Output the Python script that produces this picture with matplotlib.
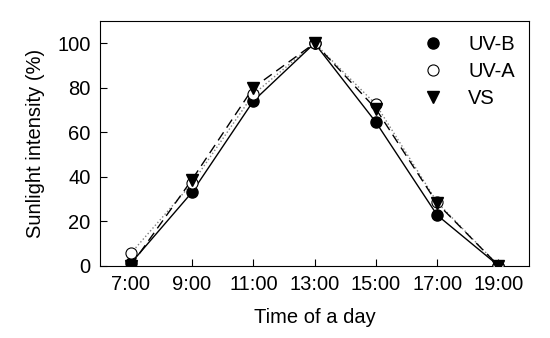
#!/usr/bin/env python

"""
Sunlight intensity over the day
"""

import matplotlib
matplotlib.use("Agg")
import matplotlib.pyplot as plt
from matplotlib.lines import Line2D

#%% data
hours = [7, 9, 11, 13, 15, 17, 19]
hour_labels = ["7:00", "9:00", "11:00", "13:00", "15:00", "17:00", "19:00"]
uvb = [1, 33, 74, 100, 64.5, 22.7, 0]
uva = [5.5, 37, 77, 100, 72.5, 28.5, 0]
vs = [0, 38.7, 80, 100, 70.5, 28, 0]

#%% plot
plt.rcParams['font.family'] = ['Liberation Sans', 'DejaVu Sans']

fig = plt.figure(figsize=(5.5, 3.38), dpi=100)
ax = fig.add_axes([0.182, 0.214, 0.780, 0.724])

ms = 8
fs = 14.5
ax.plot(hours, uvb, '-', color='black', lw=1, zorder=3)
ax.plot(hours, uva, ':', color='gray', lw=1, zorder=2)
ax.plot(hours, vs, '--', color='black', lw=1, dashes=(7, 4), zorder=2)

ax.plot(hours, uvb, 'o', color='black', ms=ms, zorder=4)
ax.plot(hours, uva, 'o', mfc='white', mec='black', mew=0.8, ms=ms, zorder=5)
ax.plot(hours, vs, 'v', color='black', ms=ms, zorder=6)

ax.set_xlim(6, 20)
ax.set_ylim(0, 110)
ax.set_xticks(hours)
ax.set_xticklabels(hour_labels)
ax.set_yticks([0, 20, 40, 60, 80, 100])
ax.tick_params(direction='in', length=5, width=0.8, labelsize=fs, pad=7)
for s in ax.spines.values():
    s.set_linewidth(0.8)

ax.set_xlabel("Time of a day", fontsize=fs, labelpad=10)
ax.set_ylabel("Sunlight intensity (%)", fontsize=fs, labelpad=9)

handles = [
    Line2D([], [], ls='', marker='o', color='black', ms=ms),
    Line2D([], [], ls='', marker='o', mfc='white', mec='black', mew=0.8, ms=ms),
    Line2D([], [], ls='', marker='v', color='black', ms=ms),
]
ax.legend(handles, ["UV-B", "UV-A", "VS"], loc='upper right', frameon=False,
          fontsize=fs, handletextpad=1.0, labelspacing=0.4, handlelength=1.5,
          borderaxespad=0.3, bbox_to_anchor=(1.0, 1.0))

fig.savefig("out.png", dpi=100)
